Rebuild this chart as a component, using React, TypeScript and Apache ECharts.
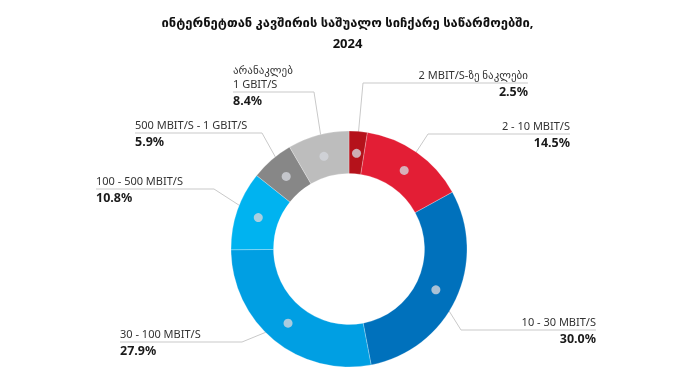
import React, { useEffect, useRef } from "react";
import * as echarts from "echarts";

const titleText = "ინტერნეტთან კავშირის საშუალო სიჩქარე საწარმოებში,";
const titleYear = "2024";

const categories = [
  "2 MBIT/S-ზე ნაკლები",
  "2 - 10 MBIT/S",
  "10 - 30 MBIT/S",
  "30 - 100 MBIT/S",
  "100 - 500 MBIT/S",
  "500 MBIT/S - 1 GBIT/S",
  "არანაკლებ\n1 GBIT/S",
];
const shares = [2.5, 14.5, 30.0, 27.9, 10.8, 5.9, 8.4];

const colors = ["#b5121b", "#e31e35", "#0071bc", "#009fe3", "#00b3f0", "#878787", "#bdbdbd"];

// label layout (pixels): elbow x of leader line, y of horizontal line, outer edge of text/line
const elbowX = [363, 428, 461, 242, 214, 262, 314];
const lineY = [83, 134, 330, 342, 189, 133, 92];
const edgeX = [528, 570, 596, 120, 96, 135, 233];
const rightSide = [true, true, true, false, false, false, false];

const CX = 349;
const CY = 249;
const R_IN = 75.5;
const R_OUT = 118;
const R_DOT = 96;
const FONT = "'Noto Sans', 'DejaVu Sans', sans-serif";

export default function App() {
  const ref = useRef<HTMLDivElement>(null);
  useEffect(() => {
    if (!ref.current) return;
    const chart = echarts.init(ref.current, null, { renderer: "svg" });
    const total = shares.reduce((a, b) => a + b, 0);
    const mids: number[] = [];
    let acc = 0;
    shares.forEach((v) => {
      mids.push(((acc + v / 2) / total) * 100);
      acc += v;
    });
    const dotPoint = (i: number) => {
      const th = (mids[i] / 100) * Math.PI * 2;
      return [CX + R_DOT * Math.sin(th), CY - R_DOT * Math.cos(th)];
    };

    chart.setOption({
      animation: false,
      title: {
        text: titleText + "\n" + titleYear,
        left: "center",
        top: 6,
        textStyle: { fontSize: 13, fontWeight: "bold", lineHeight: 21, color: "#111", fontFamily: FONT },
      },
      polar: { center: [CX, CY], radius: R_OUT },
      angleAxis: { type: "value", min: 0, max: 100, startAngle: 90, clockwise: true, show: false },
      radiusAxis: { type: "value", min: 0, max: R_OUT, show: false },
      series: [
        {
          type: "pie",
          center: [CX, CY],
          radius: [R_IN, R_OUT],
          startAngle: 90,
          clockwise: true,
          avoidLabelOverlap: false,
          itemStyle: { borderColor: "rgba(255,255,255,0.5)", borderWidth: 0.5 },
          data: categories.map((c, i) => ({ name: c, value: shares[i], itemStyle: { color: colors[i] } })),
          label: {
            show: true,
            position: "outside",
            fontFamily: FONT,
            formatter: (p: any) => {
              const lines = String(p.name).split("\n").map((s: string) => "{n|" + s + "}");
              return lines.join("\n") + "\n{v|" + p.value.toFixed(1) + "%}";
            },
            rich: {
              n: { fontSize: 11, lineHeight: 14, color: "#333", fontFamily: FONT },
              v: { fontSize: 12.5, lineHeight: 20, fontWeight: "bold", color: "#1a1a1a", fontFamily: FONT },
            },
          },
          labelLine: { show: true, lineStyle: { color: "#c9c9c9", width: 1 }, smooth: false },
          labelLayout: (params: any) => {
            const i = params.dataIndex;
            const nameLines = categories[i].split("\n").length;
            const d = dotPoint(i);
            return {
              x: edgeX[i],
              y: lineY[i] - nameLines * 14 - 2,
              align: rightSide[i] ? "right" : "left",
              verticalAlign: "top",
              labelLinePoints: [d, [elbowX[i], lineY[i]], [edgeX[i], lineY[i]]],
            };
          },
        },
        {
          type: "scatter",
          coordinateSystem: "polar",
          silent: true,
          symbolSize: 9,
          z: 5,
          itemStyle: { color: "#d3d6dc" },
          data: mids.map((m) => [R_DOT, m]),
        },
      ],
    });
    return () => chart.dispose();
  }, []);
  return <div ref={ref} style={{ position: "fixed", left: 0, top: 0, width: 695, height: 367 }} />;
}
